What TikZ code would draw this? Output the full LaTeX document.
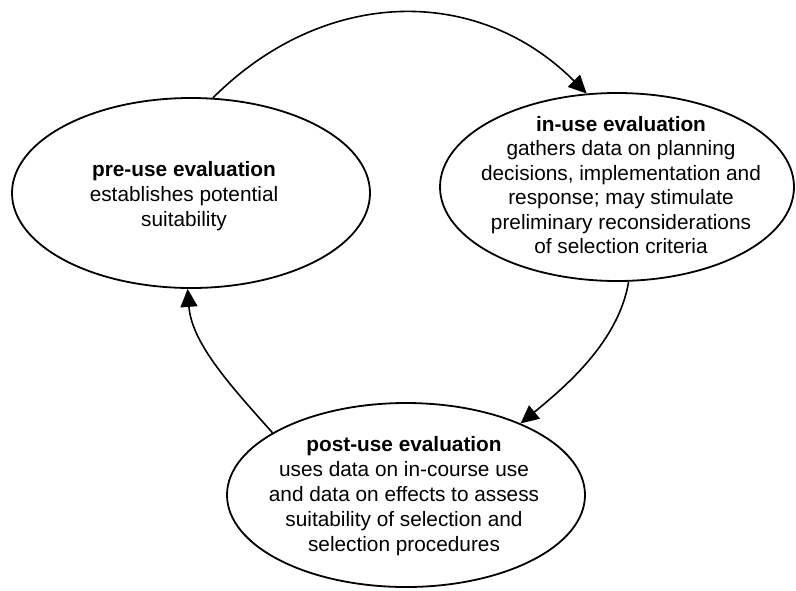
\documentclass[tikz,border=0pt]{standalone}
\usepackage{fontspec}
\setmainfont{Liberation Sans}
\usetikzlibrary{shapes.geometric,arrows.meta}
\begin{document}
\begin{tikzpicture}[x=0.5pt,y=-0.5pt,
  stage/.style={draw, ellipse, line width=0.9pt, inner sep=0pt},
  stagetext/.style={align=center, inner sep=0pt,
    font=\fontsize{10.4}{12.5}\selectfont},
  flow/.style={line width=0.8pt, -{Triangle[length=9pt,width=8.5pt]}}]
\useasboundingbox (0,0) rectangle (796,590);

% the three evaluation stages
\node[stage, minimum width=179pt, minimum height=95pt] (pre) at (191,193) {};
\node[stage, minimum width=177pt, minimum height=94pt] (in) at (617,187) {};
\node[stage, minimum width=179pt, minimum height=92pt] (post) at (406,495) {};

\node[stagetext] (pretext) at (184,196)
  {\textbf{pre-use evaluation}\\establishes potential\\suitability};
\node[stagetext, font=\fontsize{10.4}{12.2}\selectfont] (intext) at (621,185)
  {\textbf{in-use evaluation}\\gathers data on planning\\decisions, implementation and\\response; may stimulate\\preliminary reconsiderations\\of selection criteria};
\node[stagetext] (posttext) at (404,496)
  {\textbf{post-use evaluation}\\uses data on in-course use\\and data on effects to assess\\suitability of selection and\\selection procedures};

% the evaluation cycle
\draw[flow] (pre.77) .. controls +(110,-110) and +(-110,-110) .. (in.108);
\draw[flow] (in.-83) .. controls +(-10,60) and +(45,-37) .. (post.32);
\draw[flow] (post.155) .. controls +(-40,-45) and +(4,55) .. (pre.-92);
\end{tikzpicture}
\end{document}
